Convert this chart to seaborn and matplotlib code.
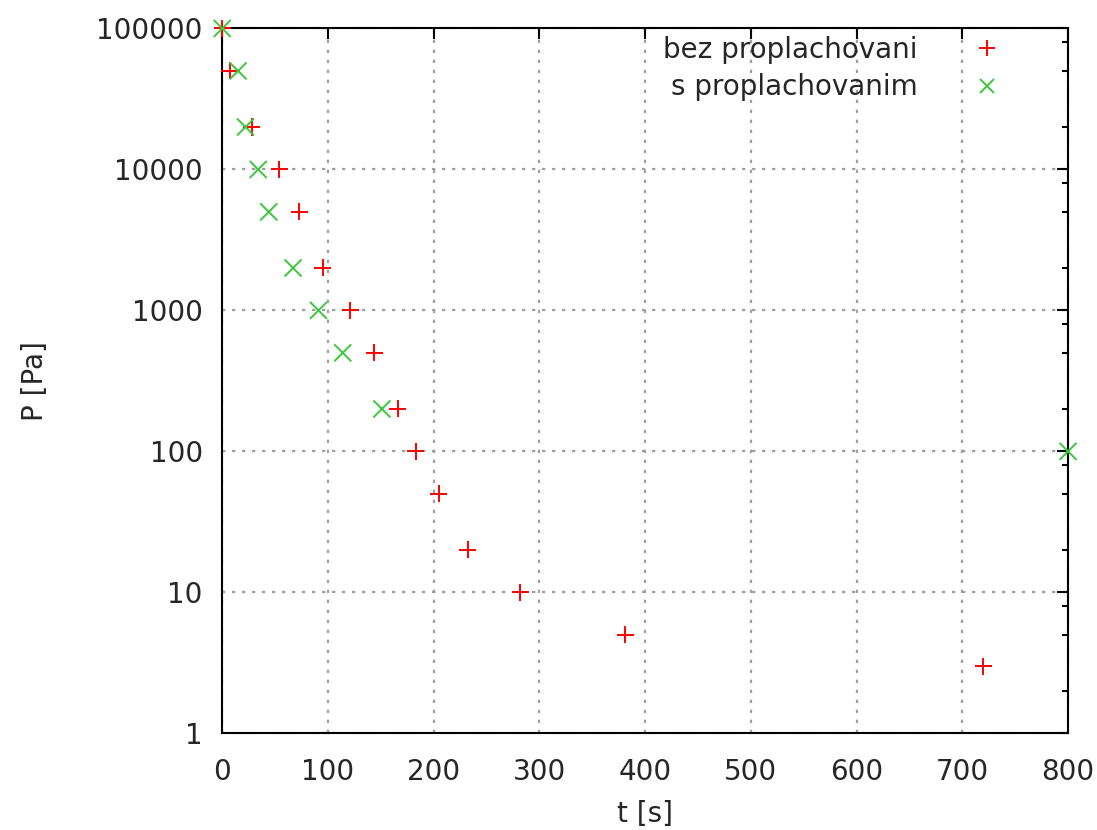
import numpy as np
import pandas as pd
import matplotlib
matplotlib.use("Agg")
import matplotlib.pyplot as plt
import matplotlib.ticker as mticker
from matplotlib.lines import Line2D
import seaborn as sns

# --- data ---
t_bez = [0, 7, 28, 54, 73, 95, 121, 144, 166, 183, 205, 232, 282, 381, 720]
p_bez = [100000, 50000, 20000, 10000, 5000, 2000, 1000, 500, 200, 100, 50, 20, 10, 5, 3]

t_s = [0, 15, 22, 34, 44, 67, 91, 114, 151, 800]
p_s = [100000, 50000, 20000, 10000, 5000, 2000, 1000, 500, 200, 100]

lbl_bez = "bez proplachovani"
lbl_s = "s proplachovanim"

x_ticks = [0, 100, 200, 300, 400, 500, 600, 700, 800]
y_ticks = [1, 10, 100, 1000, 10000, 100000]

red = "#ff0000"
green = "#3cc83c"
txt = "#262626"
fs = 20

df = pd.concat([
    pd.DataFrame({"t": t_bez, "P": p_bez, "serie": lbl_bez}),
    pd.DataFrame({"t": t_s, "P": p_s, "serie": lbl_s}),
])

sns.set_style("white")
plt.rcParams["font.family"] = ["DejaVu Sans"]

fig = plt.figure(figsize=(10.97, 8.30), dpi=100)
ax = fig.add_axes([0.2026, 0.1165, 0.7710, 0.8492])

sns.scatterplot(data=df, x="t", y="P", hue="serie", style="serie",
                palette={lbl_bez: red, lbl_s: green},
                markers={lbl_bez: "+", lbl_s: "x"},
                s=150, linewidth=1.4, ax=ax, clip_on=False, zorder=5,
                legend=False)

ax.set_yscale("log")
ax.set_xlim(0, 800)
ax.set_ylim(1, 100000)
ax.set_xticks(x_ticks)
ax.set_yticks(y_ticks)
ax.yaxis.set_major_formatter(mticker.FuncFormatter(lambda v, p: f"{int(round(v))}"))
ax.yaxis.set_minor_locator(mticker.LogLocator(base=10, subs=[2, 5, 8]))
ax.yaxis.set_minor_formatter(mticker.NullFormatter())

ax.grid(True, which="major", color="#a0a0a0", linestyle=(0, (1.5, 3)), linewidth=1.6)
ax.set_axisbelow(True)

for sp in ax.spines.values():
    sp.set_color("black")
    sp.set_linewidth(1.5)

ax.tick_params(which="both", direction="in", top=True, right=True,
               color="black", labelcolor=txt, labelsize=fs)
ax.tick_params(which="major", length=8, width=1.5)
ax.tick_params(which="minor", length=4, width=1.5)
ax.tick_params(axis="x", which="major", pad=18)
ax.tick_params(axis="y", which="major", pad=14)

ax.set_xlabel("t [s]", fontsize=fs, color=txt, labelpad=10)
ax.set_ylabel("P [Pa]", fontsize=fs, color=txt, labelpad=34)

handles = [
    Line2D([], [], linestyle="none", marker="+", color=red, markersize=11, markeredgewidth=1.4),
    Line2D([], [], linestyle="none", marker="x", color=green, markersize=10, markeredgewidth=1.4),
]
leg = ax.legend(handles, [lbl_bez, lbl_s], loc="upper right", markerfirst=False,
                frameon=False, fontsize=fs, handlelength=1.0, handletextpad=2.0,
                labelspacing=0.33, borderaxespad=0.0, bbox_to_anchor=(0.934, 1.005))
for t in leg.get_texts():
    t.set_color(txt)
    t.set_ha("right")

fig.savefig("out.png", dpi=100)
